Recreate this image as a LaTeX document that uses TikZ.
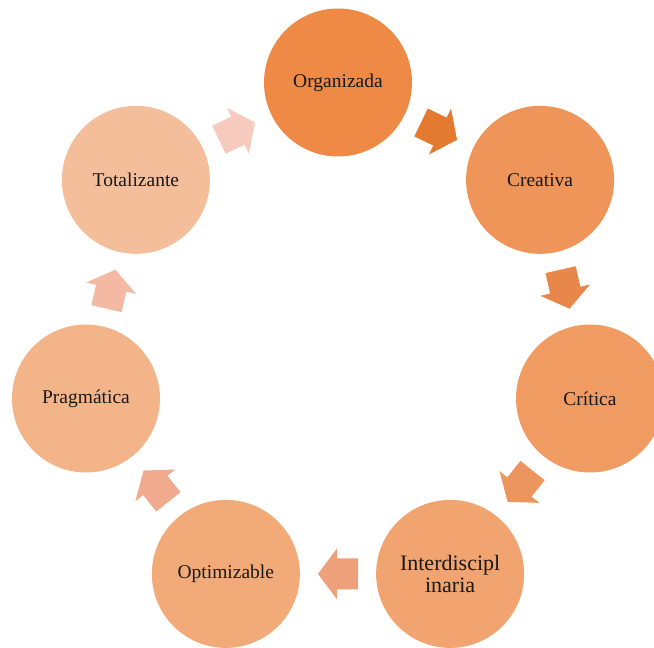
\documentclass[tikz,border=0pt]{standalone}
\usepackage{fontspec}
\setmainfont{Liberation Serif}
\usetikzlibrary{calc}

% circle fills, darkest to lightest
\definecolor{c1}{HTML}{EE8A45}
\definecolor{c2}{HTML}{EF955A}
\definecolor{c3}{HTML}{F09B62}
\definecolor{c4}{HTML}{F1A46F}
\definecolor{c5}{HTML}{F2AB78}
\definecolor{c6}{HTML}{F3B48A}
\definecolor{c7}{HTML}{F5BE9A}
% block-arrow fills
\definecolor{a1}{HTML}{E47A30}
\definecolor{a2}{HTML}{E8874A}
\definecolor{a3}{HTML}{EC955F}
\definecolor{a4}{HTML}{EDA07A}
\definecolor{a5}{HTML}{F0AB8F}
\definecolor{a6}{HTML}{F3B9A2}
\definecolor{a7}{HTML}{F6CBBE}

\tikzset{
  stage/.style={circle, minimum size=148pt, inner sep=0pt, align=center,
    text=black!90, font=\fontsize{19.5}{22.5}\selectfont},
  bigtext/.style={font=\fontsize{22}{22}\selectfont},
  blockarrow/.pic={
    \fill (-20,15.5) -- (1,15.5) -- (1,25.5) -- (20,0) -- (1,-25.5)
      -- (1,-15.5) -- (-20,-15.5) -- cycle;
  }
}

\begin{document}
\begin{tikzpicture}[x=1pt,y=1pt]
\useasboundingbox (0,0) rectangle (654,648);
\begin{scope}[shift={(338,307)}]
  \node[stage, fill=c1] (n1) at (90:258.5) {Organizada};
  \node[stage, fill=c2] (n2) at (38.571:258.5) {Creativa};
  \node[stage, fill=c3] (n3) at (-12.857:258.5) {Crítica};
  \node[stage, bigtext, fill=c4] (n4) at (-64.286:258.5) {Interdiscipl\\inaria};
  \node[stage, fill=c5] (n5) at (-115.714:258.5) {Optimizable};
  \node[stage, fill=c6] (n6) at (-167.143:258.5) {Pragmática};
  \node[stage, fill=c7] (n7) at (-218.571:258.5) {Totalizante};
\end{scope}

% arrows sit midway between neighbouring stages, pointing clockwise
\coordinate (m12) at ($(n1)!0.5!(n2)$);
\coordinate (m23) at ($(n2)!0.5!(n3)$);
\coordinate (m34) at ($(n3)!0.5!(n4)$);
\coordinate (m45) at ($(n4)!0.5!(n5)$);
\coordinate (m56) at ($(n5)!0.5!(n6)$);
\coordinate (m67) at ($(n6)!0.5!(n7)$);
\coordinate (m71) at ($(n7)!0.5!(n1)$);

\pic[fill=a1, rotate=-25.714]  at (m12) {blockarrow};
\pic[fill=a2, rotate=-77.143]  at (m23) {blockarrow};
\pic[fill=a3, rotate=-128.571] at (m34) {blockarrow};
\pic[fill=a4, rotate=-180]     at (m45) {blockarrow};
\pic[fill=a5, rotate=-231.429] at (m56) {blockarrow};
\pic[fill=a6, rotate=-282.857] at (m67) {blockarrow};
\pic[fill=a7, rotate=-334.286] at (m71) {blockarrow};
\end{tikzpicture}
\end{document}
